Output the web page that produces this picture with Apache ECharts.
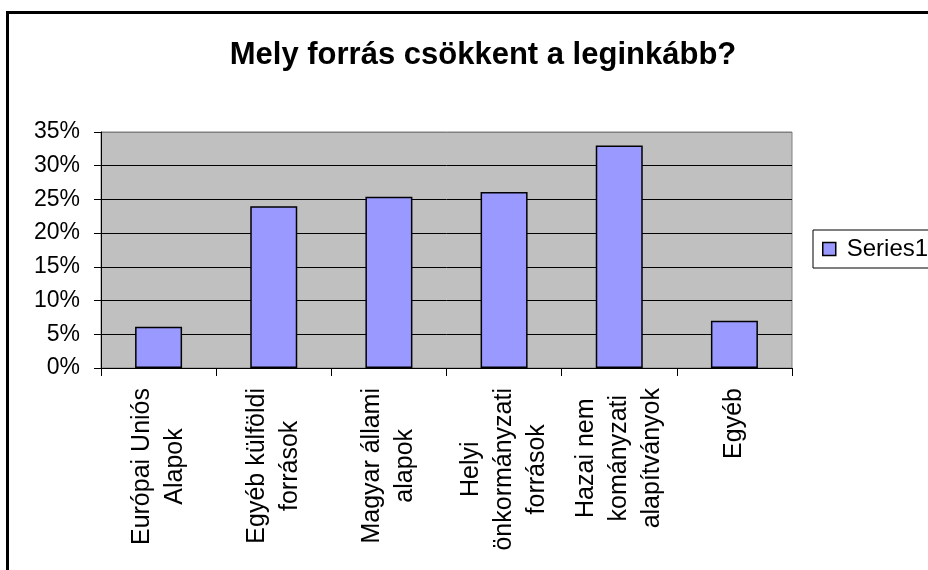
<!DOCTYPE html>
<html>
<head>
<meta charset="utf-8">
<script src="https://cdn.jsdelivr.net/npm/echarts@6/dist/echarts.min.js"></script>
<style>
html,body{margin:0;padding:0;background:#fff;}
#chart{width:928px;height:570px;}
</style>
</head>
<body>
<div id="chart"></div>
<script>
const titleText = 'Mely forrás csökkent a leginkább?';
const categories = [
  'Európai Uniós\nAlapok',
  'Egyéb külföldi\nforrások',
  'Magyar állami\nalapok',
  'Helyi\nönkormányzati\nforrások',
  'Hazai nem\nkományzati\nalapítványok',
  'Egyéb'
];
const seriesName = 'Series1';
const values = [6.1, 24.0, 25.4, 26.1, 33.0, 7.0];
const yMin = 0, yMax = 35, yStep = 5;

const FONT = '"Liberation Sans", Arial, sans-serif';
const chart = echarts.init(document.getElementById('chart'), null, {renderer: 'canvas'});
chart.setOption({
  backgroundColor: '#ffffff',
  animation: false,
  title: {
    text: titleText,
    left: 478, top: 35,
    textAlign: 'center',
    textStyle: {fontFamily: FONT, fontSize: 31, fontWeight: 'bold', color: '#000'}
  },
  legend: {
    data: [seriesName],
    left: 813, top: 230,
    orient: 'vertical',
    padding: [7, 10, 7, 9],
    borderColor: '#000', borderWidth: 1,
    itemWidth: 13, itemHeight: 13, itemGap: 0,
    icon: 'rect',
    itemStyle: {borderColor: '#000', borderWidth: 1.5},
    textStyle: {fontFamily: FONT, fontSize: 24, color: '#000', padding: [0, 0, 0, 6]}
  },
  grid: {
    left: 101, top: 132, width: 691, height: 236,
    show: true, backgroundColor: '#C0C0C0', borderColor: '#808080', borderWidth: 1
  },
  xAxis: {
    type: 'category',
    data: categories,
    axisLine: {lineStyle: {color: '#000', width: 1}},
    axisTick: {show: true, length: 8, lineStyle: {color: '#000'}},
    axisLabel: {
      interval: 0, rotate: 90, margin: 20,
      fontFamily: FONT, fontSize: 25, color: '#000',
      formatter: function (v) { return v.split('\n').map(function (l) { return '{c|' + l + '}'; }).join('\n'); },
      rich: {c: {align: 'center', fontFamily: FONT, fontSize: 25, lineHeight: 33, color: '#000'}}
    }
  },
  yAxis: {
    type: 'value',
    min: yMin, max: yMax, interval: yStep,
    axisLine: {show: true, lineStyle: {color: '#000', width: 1}},
    axisTick: {show: true, length: 7, lineStyle: {color: '#000'}},
    axisLabel: {formatter: '{value}%', margin: 21, fontFamily: FONT, fontSize: 23, color: '#000'},
    splitLine: {show: true, lineStyle: {color: ['#000','#000','#000','#000','#000','#000','#000','#808080'], width: 1}}
  },
  series: [{
    name: seriesName,
    type: 'bar',
    data: values,
    barWidth: 47,
    itemStyle: {color: '#9999FF', borderColor: '#000', borderWidth: 1.5}
  }],
  graphic: [{
    type: 'rect',
    silent: true,
    shape: {x: 7.5, y: 12.5, width: 1000, height: 1000},
    style: {fill: 'none', stroke: '#000', lineWidth: 3}
  }]
});
</script>
</body>
</html>
